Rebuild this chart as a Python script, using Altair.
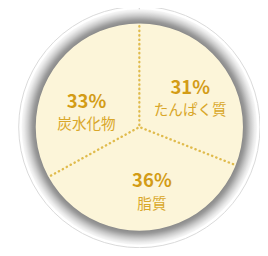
import altair as alt
import pandas as pd

categories = ["たんぱく質", "脂質", "炭水化物"]
values = [31, 36, 33]
pct_labels = ["31%", "36%", "33%"]

df = pd.DataFrame({"idx": list(range(len(categories))), "category": categories,
                   "value": values, "pct": pct_labels})

CX, CY = 135, 119
CREAM = "#fcf5d9"
GOLD = "#d39c16"
NAME_GOLD = "#d9a72a"
DOT = "#e0bb4c"
TAU = 6.283185307

theta_scale = alt.Scale(domain=[0, 100], range=[0, TAU])

base = (
    alt.Chart(df)
    .transform_window(cum="sum(value)", sort=[alt.SortField("idx")])
    .transform_calculate(start="datum.cum - datum.value", mid="datum.cum - datum.value / 2")
)
center = dict(x=alt.value(CX), y=alt.value(CY))

outline = alt.Chart(alt.Data(values=[{"a": 1}])).mark_arc(
    theta=0, theta2=TAU, outerRadius=124, fill="#ffffff", stroke="#d9d9d9", strokeWidth=1
).encode(**center)

pie = base.mark_arc(outerRadius=108, fill=CREAM).encode(
    theta=alt.Theta("start:Q", stack=False, scale=theta_scale),
    theta2="cum:Q",
    **center,
)

dividers = base.mark_arc(
    outerRadius=108, fillOpacity=0, stroke=DOT, strokeWidth=2.4,
    strokeDash=[0.1, 4.5], strokeCap="round",
).encode(
    theta=alt.Theta("cum:Q", stack=False, scale=theta_scale),
    theta2="cum:Q",
    **center,
)

gradient = {
    "gradient": "radial",
    "x1": 0.5, "y1": 0.5, "r1": 0,
    "x2": 0.5, "y2": 0.5, "r2": 0.5,
    "stops": [
        {"offset": 0.87, "color": "#858585"},
        {"offset": 0.905, "color": "#999999"},
        {"offset": 0.945, "color": "#cacaca"},
        {"offset": 0.98, "color": "#ececec"},
        {"offset": 1.0, "color": "#f8f8f8"},
    ],
}
ring = alt.Chart(alt.Data(values=[{"a": 1}])).mark_arc(
    theta=0, theta2=TAU, innerRadius=106.5, outerRadius=121, fill=gradient
).encode(**center)

offsets = {"たんぱく質": (1, 6), "脂質": (9, 5), "炭水化物": (-1, 17)}

texts = []
for cat in categories:
    ox, oy = offsets[cat]
    sub = base.transform_filter(alt.datum.category == cat)
    texts.append(
        sub.mark_text(radius=62, dx=ox, dy=oy - 11, fontSize=19, fontWeight="bold",
                      font="Noto Sans CJK JP", color=GOLD, baseline="middle", align="center")
        .encode(theta=alt.Theta("mid:Q", stack=False, scale=theta_scale), text="pct:N", **center)
    )
    texts.append(
        sub.mark_text(radius=62, dx=ox, dy=oy + 12, fontSize=15, fontWeight="normal",
                      font="Noto Sans CJK JP", color=NAME_GOLD, baseline="middle", align="center")
        .encode(theta=alt.Theta("mid:Q", stack=False, scale=theta_scale), text="category:N", **center)
    )

chart = alt.layer(outline, pie, dividers, ring, *texts).properties(
    width=259, height=240, padding=0, autosize=alt.AutoSizeParams(type="none"),
    background="#ffffff",
).configure_view(stroke=None)

chart.save("out.html", embed_options={"renderer": "svg", "actions": False})
